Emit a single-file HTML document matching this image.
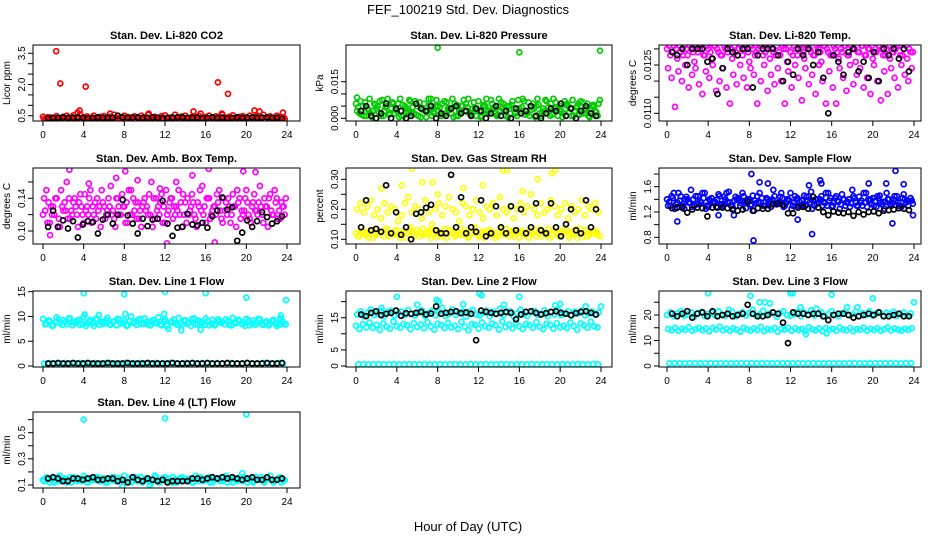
<!DOCTYPE html>
<html><head><meta charset="utf-8"><style>
body{margin:0;background:#fff}
svg{display:block;font-family:"Liberation Sans",sans-serif}
</style></head><body>
<svg id="chart" width="936" height="540" viewBox="0 0 936 540" xmlns="http://www.w3.org/2000/svg">
<text x="468" y="14" text-anchor="middle" font-size="13">FEF_100219  Std. Dev. Diagnostics</text>
<text x="468" y="531" text-anchor="middle" font-size="13">Hour of Day (UTC)</text>
</svg>
<script>
// ---- data ----
const xTicks=[0,4,8,12,16,20,24];
const co2Color=[0.45,0.38,0.42,0.4,0.48,0.36,0.44,0.5,0.4,0.52,0.38,0.55,0.42,0.46,0.4,0.5,0.37,0.44,0.48,0.4,0.45,0.55,0.38,0.42,0.5,0.44,0.4,0.47,0.39,0.5,0.42,0.55,0.4,0.45,0.38,0.48,0.52,0.4,0.43,0.55,0.4,0.46,0.5,0.38,0.45,0.42,0.49,0.4,0.44,0.5,0.38,0.47,0.42,0.55,0.4,0.45,0.52,0.39,0.44,0.48,0.41,0.5,0.43,0.46,0.38,0.55,0.42,0.47,0.4,0.5,0.44,0.42];
const co2ColorB=[0.35,0.42,0.33,0.38,0.36,0.4,0.34,0.37,0.42,0.35,0.39,0.33,0.36,0.4,0.35,0.38,0.42,0.34,0.37,0.35,0.4,0.36,0.33,0.39,0.35,0.38,0.42,0.34,0.37,0.36,0.4,0.35,0.38,0.33,0.41,0.36,0.35,0.39,0.34,0.37,0.42,0.35,0.38,0.36,0.4,0.33,0.37,0.35,0.39,0.34,0.41,0.36,0.38,0.35,0.4,0.34,0.37,0.42,0.35,0.38,0.36,0.33,0.4,0.35,0.38,0.34,0.37,0.41,0.35,0.39,0.36,0.34];
const co2OutX=[1.3,1.7,4.2,17.2,18.2,3.6,3.4,15.5,20.8,21.3,23.6,14.8,10.4,6.6,17.6];
const co2OutY=[3.6,2.05,1.9,2.1,1.55,0.75,0.65,0.6,0.75,0.7,0.65,0.7,0.6,0.6,0.6];
const co2Black=[0.38,0.4,0.4,0.42,0.4,0.41,0.42,0.4,0.38,0.4,0.42,0.4,0.41,0.4,0.5,0.42,0.4,0.41,0.42,0.4,0.4,0.42,0.4,0.38,0.4,0.41,0.43,0.42,0.4,0.4,0.41,0.38,0.4,0.42,0.4,0.41,0.38,0.4,0.42,0.4,0.41,0.42,0.4,0.41,0.42,0.4,0.41,0.35];
const presColorA=[.006,.002,.005,.001,.008,.003,.004,.007,.001,.005,.002,.006,.003,.008,.001,.004,.007,.002,.005,.0005,.006,.003,.008,.002,.005,.001,.007,.004,.002,.006,.001,.005,.003,.008,.002,.004,.007,.001,.005,.003,.006,.002,.008,.004,.001,.005,.007,.002,.004,.008,.003,.001,.006,.005,.002,.004,.007,.001,.008,.003,.005,.002,.006,.004,.001,.005,.007,.002,.006,.003,.005,.001];
const presColorB=[.003,.007,.001,.004,.002,.006,.005,.001,.003,.008,.004,.002,.006,.001,.005,.003,.002,.007,.001,.004,.003,.008,.001,.005,.003,.006,.002,.004,.008,.001,.003,.005,.006,.002,.004,.001,.003,.005,.008,.002,.004,.001,.003,.006,.005,.002,.004,.001,.003,.007,.002,.005,.004,.008,.001,.003,.002,.006,.004,.001,.003,.007,.005,.001,.003,.006,.002,.004,.001,.005,.003,.006];
const presColorC=[.0045,.0015,.0065,.0035,.0005,.0055,.0025,.0075,.0045,.0015,.0065,.0035,.0005,.0055,.0025,.0075,.0045,.0015,.0065,.0035,.0005,.0055,.0025,.0075,.0045,.0015,.0065,.0035,.0005,.0055,.0025,.0075,.0045,.0015,.0065,.0035,.0005,.0055,.0025,.0075,.0045,.0015,.0065,.0035,.0005,.0055,.0025,.0075,.0045,.0015,.0065,.0035,.0005,.0055,.0025,.0075,.0045,.0015,.0065,.0035,.0005,.0055,.0025,.0075,.0045,.0015,.0065,.0035,.0005,.0055,.0025,.0075];
const presOutX=[8,16,23.9,0.1];
const presOutY=[.0289,.027,.0277,.0085];
const presBlack=[.003,.005,.001,.0,.002,.006,.0,.004,.003,.0,.001,.006,.004,.003,.005,.0,.002,.001,.004,.005,.002,.003,.001,.004,.003,.0,.002,.005,.001,.003,.0,.004,.002,.003,.005,.001,.0,.002,.004,.003,.006,.001,.004,.0,.003,.005,.002,.001];
const tempColorA=[.0130,.0128,.0131,.0127,.0129,.0131,.0128,.0130,.0126,.0129,.0131,.0128,.0130,.0127,.0131,.0129,.0128,.0130,.0131,.0127,.0129,.0130,.0128,.0131,.0126,.0130,.0129,.0131,.0128,.0130,.0127,.0129,.0131,.0128,.0130,.0126,.0129,.0131,.0128,.0130,.0127,.0131,.0129,.0128,.0130,.0126,.0131,.0129,.0128,.0130,.0127,.0129,.0131,.0128,.0130,.0126,.0129,.0131,.0128,.0130,.0127,.0129,.0131,.0128,.0130,.0127,.0129,.0131,.0128,.0130,.0127,.0129];
const tempColorC=[.0131,.0129,.0130,.0131,.0128,.0130,.0131,.0129,.0131,.0130,.0128,.0131,.0129,.0131,.0130,.0128,.0131,.0129,.0130,.0131,.0128,.0131,.0130,.0129,.0131,.0128,.0130,.0131,.0129,.0131,.0130,.0128,.0129,.0131,.0130,.0131,.0128,.0130,.0131,.0129,.0131,.0130,.0128,.0131,.0129,.0131,.0130,.0128,.0131,.0129,.0130,.0131,.0128,.0131,.0130,.0129,.0131,.0128,.0130,.0131,.0129,.0131,.0130,.0128,.0131,.0129,.0130,.0131,.0128,.0131,.0130,.0129];
const tempColorB=[.0124,.0121,.0112,.0123,.0120,.0125,.0118,.0122,.0124,.0119,.0116,.0123,.0121,.0125,.0117,.0120,.0124,.0118,.0113,.0122,.0119,.0125,.0121,.0118,.0124,.0122,.0113,.0120,.0125,.0117,.0122,.0119,.0124,.0120,.0113,.0123,.0118,.0125,.0121,.0114,.0124,.0119,.0122,.0116,.0125,.0120,.0113,.0123,.0118,.0113,.0124,.0121,.0117,.0125,.0119,.0122,.0124,.0118,.0121,.0116,.0125,.0120,.0114,.0123,.0116,.0124,.0121,.0118,.0125,.0122,.0120,.0124];
const tempBlack=[.0129,.0128,.0130,.0125,.0130,.0130,.0130,.0126,.0127,.0116,.0124,.0130,.0129,.0128,.0130,.0130,.0118,.0128,.0130,.0130,.0130,.0128,.0120,.0126,.0122,.0130,.0128,.0130,.0125,.0129,.0121,.0110,.0128,.0126,.0122,.0129,.0130,.0123,.0126,.0121,.0129,.0120,.0130,.0128,.0130,.0127,.0130,.0123];
const ambColorA=[.12,.15,.11,.13,.14,.105,.125,.16,.115,.135,.12,.145,.11,.13,.15,.12,.14,.105,.13,.125,.155,.115,.14,.12,.13,.11,.15,.125,.135,.105,.14,.12,.16,.115,.13,.145,.11,.125,.14,.12,.15,.105,.135,.12,.145,.115,.13,.155,.11,.14,.125,.12,.15,.11,.135,.13,.145,.105,.14,.12,.15,.115,.135,.125,.155,.11,.13,.145,.12,.14,.115,.13];
const ambColorB=[.14,.11,.13,.12,.105,.15,.135,.115,.125,.14,.105,.13,.145,.12,.11,.135,.125,.15,.115,.14,.12,.105,.13,.145,.11,.15,.12,.135,.115,.13,.125,.145,.105,.14,.12,.11,.15,.135,.115,.13,.12,.145,.11,.125,.135,.105,.15,.12,.14,.115,.13,.145,.125,.14,.12,.11,.13,.15,.115,.125,.135,.11,.145,.12,.13,.14,.105,.125,.15,.115,.135,.12];
const ambColorC=[.125,.135,.12,.14,.115,.13,.125,.14,.12,.13,.135,.12,.125,.14,.13,.115,.13,.135,.12,.13,.125,.14,.12,.13,.135,.12,.14,.115,.125,.135,.13,.12,.14,.125,.135,.13,.12,.14,.13,.125,.135,.12,.14,.13,.12,.135,.125,.13,.14,.12,.13,.135,.115,.125,.14,.12,.13,.135,.125,.14,.12,.13,.125,.135,.12,.13,.14,.12,.135,.125,.13,.14];
const ambOutX=[2.6,8.1,16.3,19.7,20.9,14.7,12.2,16.9,0.7,7.2,9.3,13.1,4.5,11.5];
const ambOutY=[.175,.173,.176,.173,.172,.168,.085,.086,.095,.165,.162,.16,.158,.152];
const ambBlack=[.105,.125,.105,.113,.103,.112,.092,.108,.112,.111,.097,.114,.12,.109,.12,.138,.119,.109,.097,.115,.106,.114,.115,.137,.109,.094,.104,.105,.121,.108,.107,.11,.104,.118,.125,.141,.126,.129,.088,.098,.113,.105,.112,.123,.117,.109,.112,.118];
const rhColorA=[.12,.11,.13,.115,.125,.105,.13,.12,.11,.135,.12,.115,.13,.105,.125,.12,.14,.11,.13,.12,.115,.125,.105,.13,.12,.11,.135,.12,.13,.11,.125,.115,.13,.105,.12,.14,.11,.125,.12,.13,.115,.105,.125,.12,.135,.11,.13,.12,.105,.125,.115,.13,.12,.11,.135,.125,.115,.105,.13,.12,.11,.125,.13,.115,.12,.105,.135,.12,.11,.125,.13,.115];
const rhColorC=[.11,.125,.12,.105,.13,.115,.12,.125,.135,.11,.12,.13,.115,.12,.105,.13,.125,.12,.11,.135,.12,.13,.115,.11,.125,.12,.105,.13,.12,.115,.135,.12,.11,.125,.13,.115,.12,.105,.13,.125,.12,.11,.135,.115,.12,.125,.11,.13,.12,.115,.105,.125,.13,.12,.11,.12,.135,.115,.125,.11,.13,.12,.105,.125,.135,.12,.11,.13,.115,.12,.125,.11];
const rhColorB=[.2,.22,.19,.21,.23,.18,.2,.17,.22,.19,.21,.2,.16,.18,.22,.24,.19,.21,.2,.17,.23,.19,.15,.2,.22,.18,.21,.24,.2,.19,.16,.22,.21,.18,.2,.23,.19,.17,.21,.2,.22,.18,.24,.2,.19,.21,.17,.2,.22,.19,.21,.25,.2,.18,.22,.19,.2,.23,.21,.18,.2,.22,.17,.21,.19,.2,.23,.18,.21,.2,.22,.19];
const rhOutX=[5.5,6.5,2.5,8,14.4,14.8,19.2,19.5,17.8,16.3,12.4,4.5,7.5,10.5];
const rhOutY=[.335,.29,.27,.25,.33,.33,.32,.33,.3,.26,.28,.28,.29,.27];
const rhBlack=[.14,.23,.13,.135,.125,.28,.12,.19,.115,.14,.10,.185,.19,.205,.215,.13,.12,.12,.315,.14,.24,.12,.14,.125,.23,.11,.12,.21,.14,.12,.21,.13,.20,.12,.14,.22,.13,.12,.22,.14,.11,.15,.2,.13,.12,.23,.14,.2];
const flowColorA=[1.4,1.3,1.5,1.35,1.45,1.25,1.4,1.55,1.3,1.45,1.35,1.5,1.28,1.42,1.36,1.48,1.32,1.4,1.52,1.3,1.44,1.38,1.5,1.26,1.4,1.46,1.34,1.5,1.3,1.42,1.38,1.55,1.32,1.44,1.28,1.4,1.5,1.35,1.42,1.3,1.46,1.38,1.52,1.3,1.4,1.45,1.34,1.5,1.28,1.42,1.36,1.48,1.3,1.4,1.55,1.35,1.44,1.3,1.5,1.38,1.42,1.28,1.46,1.36,1.5,1.32,1.4,1.45,1.3,1.48,1.38,1.42];
const flowColorB=[1.3,1.45,1.25,1.5,1.3,1.4,1.35,1.28,1.45,1.32,1.5,1.25,1.4,1.35,1.28,1.45,1.3,1.5,1.35,1.25,1.4,1.3,1.45,1.38,1.3,1.22,1.45,1.35,1.3,1.4,1.28,1.45,1.35,1.5,1.3,1.4,1.25,1.45,1.3,1.38,1.3,1.45,1.25,1.4,1.35,1.3,1.5,1.38,1.3,1.45,1.25,1.4,1.35,1.28,1.45,1.3,1.35,1.5,1.28,1.4,1.3,1.45,1.35,1.25,1.4,1.3,1.45,1.35,1.28,1.4,1.3,1.38];
const flowColorC=[1.36,1.42,1.32,1.38,1.3,1.44,1.35,1.4,1.33,1.37,1.42,1.3,1.38,1.34,1.4,1.32,1.44,1.36,1.3,1.38,1.42,1.34,1.36,1.4,1.32,1.38,1.35,1.42,1.3,1.37,1.4,1.33,1.36,1.42,1.34,1.38,1.3,1.4,1.36,1.32,1.44,1.35,1.38,1.33,1.4,1.36,1.3,1.42,1.35,1.38,1.32,1.4,1.36,1.34,1.42,1.3,1.38,1.35,1.4,1.33,1.37,1.42,1.32,1.36,1.4,1.34,1.38,1.3,1.42,1.35,1.37,1.33];
const flowOutX=[8.2,22.2,8.4,14.1,1,12.7,21.9,23.9,9.8,9,15,19.6,21.3,23,14.9,13.8,5,6.5];
const flowOutY=[1.8,1.85,0.75,0.85,1.05,1.08,1.02,1.15,1.65,1.67,1.65,1.65,1.65,1.64,1.7,1.62,1.15,1.15];
const flowBlack=[1.26,1.27,1.27,1.19,1.24,1.27,1.26,1.13,1.27,1.27,1.27,1.26,1.24,1.22,1.24,1.36,1.22,1.26,1.25,1.25,1.32,1.33,1.31,1.18,1.18,1.27,1.28,1.25,1.44,1.27,1.2,1.15,1.21,1.19,1.18,1.2,1.14,1.2,1.16,1.2,1.21,1.18,1.22,1.23,1.24,1.26,1.25,1.23];
const l1ColorA=[9.5,8.5,9,8.2,9.8,8.7,9.2,8.4,9.6,8.8,9.1,8.3,9.9,8.6,9.3,8.1,9.4,8.9,8.5,9.7,8.3,9,9.5,8.6,9.2,8.2,10,8.8,9.3,8.5,9.6,8.4,9.1,8.7,9.8,8.2,9.4,7.5,9,8.6,9.7,8.3,9.2,8.8,9.5,8.4,9.1,8.7,9.6,8.2,9.3,8.5,9,8.9,9.4,8.3,9.7,8.6,9.1,8.4,9.5,8.2,9.2,8.7,9.4,8.3,9,8.6,9.3,8.1,9.6,8.5];
const l1ColorC=[8.4,9.2,8.1,8.8,9.4,8.3,8.9,9.6,8.2,8.7,9.3,8.5,8.1,9,8.6,9.5,8.3,8.8,9.2,8.4,8.9,8.2,9.4,8.6,8.1,9.1,8.7,8.3,9.5,8.5,8.9,8.2,9.3,8.6,8.4,9,8.1,8.8,9.4,8.3,8.7,9.2,8.5,8.1,9.6,8.4,8.9,8.3,9.1,8.6,8.2,9.4,8.7,8.4,9,8.2,8.8,9.3,8.5,8.1,9.2,8.6,8.3,9.5,8.4,8.8,8.2,9.1,8.6,8.3,9,8.4];
const l1ColorB=[0.5,0.6,0.5,0.5,0.6,0.5,0.5,0.6,0.5,0.5,0.6,0.5,0.5,0.6,0.5,0.5,0.6,0.5,0.5,0.6,0.5,0.5,0.6,0.5,0.5,0.6,0.5,0.5,0.6,0.5,0.5,0.6,0.5,0.5,0.6,0.5,0.5,0.6,0.5,0.5,0.6,0.5,0.5,0.6,0.5,0.5,0.6,0.5];
const l1OutX=[4,8,12,16,20,23.9,13.6,15.5,4.1,8.1,11.9,23.4,5.5];
const l1OutY=[14.7,14.5,15,14.7,13.8,13.3,7.2,7.3,10.4,10.5,10.5,10.2,10.3];
const l1Black=[.5,.5,.6,.5,.5,.6,.5,.5,.6,.5,.5,.5,.6,.5,.5,.5,.6,.5,.5,.5,.6,.5,.5,.5,.5,.6,.5,.5,.5,.6,.5,.5,.6,.5,.5,.5,.6,.5,.5,.5,.6,.5,.5,.5,.6,.5,.5,.6];
const l2ColorA=[12.5,11.5,13,12,13.5,11.8,12.8,11.2,13.2,12.2,11.6,13.8,12.4,11.9,13,12.6,11.4,13.3,12.1,12.9,11.7,13.6,12.3,11.3,13.1,12.7,11.8,13.4,12,12.5,11.5,13.7,12.2,11.1,13,12.8,11.6,13.5,12.4,11.9,13.2,12.6,11.3,13.8,12.1,12.9,11.7,13.4,12.3,11.5,13,12.7,11.9,13.6,12.2,11.4,13.1,12.8,11.6,13.3,12,12.5,11.8,13.5,12.4,11.2,13.2,12.6,11.9,13.7,12.3,12];
const l2ColorB=[16,17,15.5,16.5,17.5,15.8,16.2,17,15.4,16.8,17.2,15.6,16.4,16.9,15.9,17.4,16.1,15.7,16.6,17.3,15.5,16.3,17.1,15.8,16.7,18,15.6,16.2,17.6,15.9,16.5,17,15.3,16.8,17.4,16,15.7,16.4,17.2,15.5,16.9,16.1,17.8,15.8,16.6,17,15.4,16.3,17.5,16,15.6,16.8,17.1,15.9,16.2,17.3,15.5,16.7,16,17.4,15.8,16.5,17,15.6,16.9,16.3,17.2,15.7,16.4,17,15.9,16.6];
const l2ColorC=[0.5,0.6,0.5,0.5,0.6,0.5,0.5,0.6,0.5,0.5,0.6,0.5,0.5,0.6,0.5,0.5,0.6,0.5,0.5,0.6,0.5,0.5,0.6,0.5,0.5,0.6,0.5,0.5,0.6,0.5,0.5,0.6,0.5,0.5,0.6,0.5,0.5,0.6,0.5,0.5,0.6,0.5,0.5,0.6,0.5,0.5,0.6,0.5];
const l2OutX=[4,8.1,12.1,12.3,16,20,24,6,10.5,14.5,19.5,2.5,22.5,7.9];
const l2OutY=[21.5,20,22.5,22,21.5,19.3,18.5,19,19.2,19,18.8,18,18.5,20.5];
const l2Black=[16,15.5,16.5,17,15.8,16.2,16.5,17.2,15.6,16.4,16.2,16.5,16.8,16,16.3,18.5,16.2,16.5,16.8,17,16.4,16.6,16.2,8,17.2,16.8,16.5,16.2,16.5,16.8,16.5,14.5,16,16.8,17,16.5,16,16.4,16.8,17,16.5,16.2,15.8,16.4,16.8,17,16.5,16];
const l3ColorA=[20,21,19.5,20.5,21.5,19.8,20.2,21,19.4,20.8,21.2,19.6,20.4,20.9,19.9,21.4,20.1,19.7,20.6,21.3,19.5,20.3,21.1,19.8,20.7,22,19.6,20.2,21.6,19.9,20.5,21,19.3,20.8,21.4,20,19.7,20.4,21.2,19.5,20.9,20.1,21.8,19.8,20.6,21,19.4,20.3,21.5,20,19.6,20.8,21.1,19.9,20.2,21.3,19.5,20.7,20,21.4,19.8,20.5,21,19.6,20.9,20.3,21.2,19.7,20.4,21,19.9,20.6];
const l3ColorB=[14.5,14,15,13.8,14.6,14.2,15.2,13.9,14.4,15,14.1,14.7,13.6,14.9,14.3,15.4,14,14.6,13.8,14.8,14.2,13.5,15,14.4,13.9,14.7,14.1,15.3,13.7,14.5,14.2,14.9,13.4,14.6,14.3,15,13.9,14.8,14.1,14.5,13.8,15.2,14.4,14,14.7,13.6,14.9,14.2,14.6,13.9,15.1,14.3,14,14.8,13.7,14.5,14.2,15,13.9,14.6,14.1,14.8,13.8,14.4,15.1,14,14.7,14.3,13.9,14.6,14.2,14.8];
const l3ColorC=[1,1.1,1,1,1.1,1,1,1.1,1,1,1.1,1,1,1.1,1,1,1.1,1,1,1.1,1,1,1.1,1,1,1.1,1,1,1.1,1,1,1.1,1,1,1.1,1,1,1.1,1,1,1.1,1,1,1.1,1,1,1.1,1];
const l3OutX=[4,8.1,12,12.2,16,20,24,9,9.5,10,6,14.5,17.5,13,18.5,13.5,15.5];
const l3OutY=[28.5,27.5,28.5,28.5,28,26.5,25,25,25,24.5,22,22.5,23,23,23,12.5,12.8];
const l3Black=[20.5,19.5,20.5,21.5,19,20.5,21,19.5,21.5,19.5,20,20.5,19.5,20,20.5,24,20.5,19.5,19.5,20,21,20.5,17,9,21,20.5,20.5,20,20.5,20.5,19.5,18,20,20.5,20.5,20,19,19.5,20,20.5,20,21,19.5,19.5,20,20.5,19.5,19.5];
const l4Color=[.14,.16,.12,.15,.13,.17,.14,.12,.16,.15,.13,.14,.17,.12,.15,.14,.16,.13,.15,.12,.14,.16,.13,.15,.17,.14,.12,.15,.13,.16,.14,.15,.12,.17,.14,.13,.16,.15,.12,.14,.13,.16,.15,.14,.12,.17,.13,.15,.14,.16,.12,.15,.14,.13,.17,.15,.12,.14,.16,.13,.15,.14,.12,.16,.14,.13,.15,.17,.12,.14,.16,.13];
const l4ColorB=[.13,.15,.14,.12,.16,.13,.15,.14,.12,.16,.14,.13,.15,.12,.14,.16,.13,.15,.12,.14,.16,.13,.15,.14,.12,.15,.13,.16,.14,.12,.15,.13,.14,.16,.12,.15,.14,.13,.16,.12,.15,.14,.13,.15,.12,.14,.16,.13,.15,.12,.14,.15,.13,.16,.12,.14,.15,.13,.14,.16,.12,.15,.13,.14,.16,.12,.15,.14,.13,.15,.12,.14];
const l4OutX=[4,12,20,7.8,19.6,10.5];
const l4OutY=[.6,.61,.64,.09,.19,.10];
const l4Black=[.15,.16,.15,.13,.13,.15,.15,.14,.15,.16,.14,.14,.15,.15,.13,.14,.12,.16,.14,.13,.15,.14,.13,.14,.12,.13,.13,.13,.13,.15,.15,.14,.15,.16,.15,.16,.15,.16,.15,.14,.15,.16,.14,.14,.16,.14,.14,.15];

// ---- layout ----
const colsX=[[33,300,43,287],[346,612,356,601],[659,921,667,914]];
const rowsY=[45,168,291,412];
const BOXH=76;
const panels=[
 {name:'li820-co2',title:'Stan. Dev. Li-820 CO2',ylab:'Licor ppm',c:0,r:0,cal:[0.5,115.7,3.5,53.3],ticks:[0.5,1,1.5,2,2.5,3,3.5],labs:['0.5','2.0','3.5'],labAt:[0.5,2,3.5],color:'#ff0000',series:[co2Color,co2ColorB],outX:co2OutX,outY:co2OutY,black:co2Black},
 {name:'li820-pressure',title:'Stan. Dev. Li-820 Pressure',ylab:'kPa',c:1,r:0,cal:[0,118.3,0.015,81.7],ticks:[0,0.005,0.01,0.015],labs:['0.000','0.015'],labAt:[0,0.015],color:'#00cc00',series:[presColorA,presColorB,presColorC],outX:presOutX,outY:presOutY,black:presBlack},
 {name:'li820-temp',title:'Stan. Dev. Li-820 Temp.',ylab:'degrees C',c:2,r:0,cal:[0.011,113.3,0.0125,65],ticks:[0.011,0.0115,0.012,0.0125,0.013],labs:['0.0110','0.0125'],labAt:[0.011,0.0125],color:'#ff00ff',series:[tempColorA,tempColorB,tempColorC],outX:[],outY:[],black:tempBlack},
 {name:'amb-box-temp',title:'Stan. Dev. Amb. Box Temp.',ylab:'degrees C',c:0,r:1,cal:[0.10,231,0.14,198.3],ticks:[0.10,0.12,0.14,0.16],labs:['0.10','0.14'],labAt:[0.10,0.14],color:'#ff00ff',series:[ambColorA,ambColorB,ambColorC],outX:ambOutX,outY:ambOutY,black:ambBlack},
 {name:'gas-stream-rh',title:'Stan. Dev. Gas Stream RH',ylab:'percent',c:1,r:1,cal:[0.10,239.3,0.30,179.3],ticks:[0.10,0.15,0.20,0.25,0.30],labs:['0.10','0.20','0.30'],labAt:[0.10,0.20,0.30],color:'#ffff00',series:[rhColorA,rhColorB,rhColorC],outX:rhOutX,outY:rhOutY,black:rhBlack},
 {name:'sample-flow',title:'Stan. Dev. Sample Flow',ylab:'ml/min',c:2,r:1,cal:[0.8,237.3,1.6,186.7],ticks:[0.8,1.0,1.2,1.4,1.6,1.8],labs:['0.8','1.2','1.6'],labAt:[0.8,1.2,1.6],color:'#0000ff',series:[flowColorA,flowColorB,flowColorC],outX:flowOutX,outY:flowOutY,black:flowBlack},
 {name:'line1-flow',title:'Stan. Dev. Line 1 Flow',ylab:'ml/min',c:0,r:2,cal:[0,366,15,291.7],ticks:[0,5,10,15],labs:['0','5','10','15'],labAt:[0,5,10,15],color:'#00ffff',series:[l1ColorA,l1ColorB,l1ColorC],outX:l1OutX,outY:l1OutY,black:l1Black},
 {name:'line2-flow',title:'Stan. Dev. Line 2 Flow',ylab:'ml/min',c:1,r:2,cal:[0,366,15,317.7],ticks:[0,5,10,15,20],labs:['0','5','15'],labAt:[0,5,15],color:'#00ffff',series:[l2ColorA,l2ColorB,l2ColorC],outX:l2OutX,outY:l2OutY,black:l2Black},
 {name:'line3-flow',title:'Stan. Dev. Line 3 Flow',ylab:'ml/min',c:2,r:2,cal:[0,366,20,315],ticks:[0,5,10,15,20,25],labs:['0','10','20'],labAt:[0,10,20],color:'#00ffff',series:[l3ColorA,l3ColorB,l3ColorC],outX:l3OutX,outY:l3OutY,black:l3Black},
 {name:'line4-lt-flow',title:'Stan. Dev. Line 4 (LT) Flow',ylab:'ml/min',c:0,r:3,cal:[0.1,485,0.5,432.7],ticks:[0.1,0.2,0.3,0.4,0.5,0.6],labs:['0.1','0.3','0.5'],labAt:[0.1,0.3,0.5],color:'#00ffff',series:[l4Color,l4ColorB],outX:l4OutX,outY:l4OutY,black:l4Black}
];
const NS='http://www.w3.org/2000/svg';
const svg=document.getElementById('chart');
function mk(tag,attrs,parent){const e=document.createElementNS(NS,tag);for(const k in attrs)e.setAttribute(k,attrs[k]);(parent||svg).appendChild(e);return e;}
panels.forEach((p,pi)=>{
  const [L,R,x0,x24]=colsX[p.c];const T=rowsY[p.r];const B=T+BOXH;
  const xs=h=>x0+(x24-x0)*h/24;
  const [v0,p0,v1,p1]=p.cal;const ys=v=>p0+(v-v0)*(p1-p0)/(v1-v0);
  const g=mk('g',{});
  
  
  const cp=mk('clipPath',{id:'cp'+pi},g);mk('rect',{x:L,y:T,width:R-L,height:BOXH},cp);
  const t=mk('text',{x:(L+R)/2,y:T-6,'text-anchor':'middle','font-size':'11','font-weight':'bold'},g);t.textContent=p.title;
  
  
  const yl=mk('text',{transform:`translate(${L-23},${(T+B)/2}) rotate(-90)`,'text-anchor':'middle','font-size':'10'},g);yl.textContent=p.ylab;
  
  
  const pts=mk('g',{'clip-path':`url(#cp${pi})`,fill:'none','stroke-width':'1.7'},g);
  const dot=(h,v,col,nm)=>{const c=mk('circle',{cx:xs(h).toFixed(1),cy:ys(v).toFixed(1),r:2.5,stroke:col},pts);
    
    };
  p.series.forEach((arr,si)=>{arr.forEach((v,i)=>dot(i*24/arr.length+si*0.11,v,p.color,'point'));});
  p.outX.forEach((h,i)=>dot(h,p.outY[i],p.color,'outlier-point'));
  p.black.forEach((v,i)=>dot(0.5+i*23.5/p.black.length,v,'#000','black-point'));
  mk('rect',{x:L,y:T,width:R-L,height:BOXH,fill:'none',stroke:'#000','stroke-width':'1'},g);
  xTicks.forEach(h=>{mk('line',{x1:xs(h),x2:xs(h),y1:B,y2:B+5,stroke:'#000'},g);
    const tx=mk('text',{x:xs(h),y:B+17,'text-anchor':'middle','font-size':'10'},g);tx.textContent=h;
    
    });
  p.ticks.forEach(v=>{const y=ys(v);if(y<T-1||y>B+1)return;mk('line',{x1:L-5,x2:L,y1:y,y2:y,stroke:'#000'},g);});
  p.labAt.forEach((v,i)=>{const ty=mk('text',{transform:`translate(${L-8},${ys(v)}) rotate(-90)`,'text-anchor':'middle','font-size':'10'},g);ty.textContent=p.labs[i];
    
    });
});
</script>
</body></html>
